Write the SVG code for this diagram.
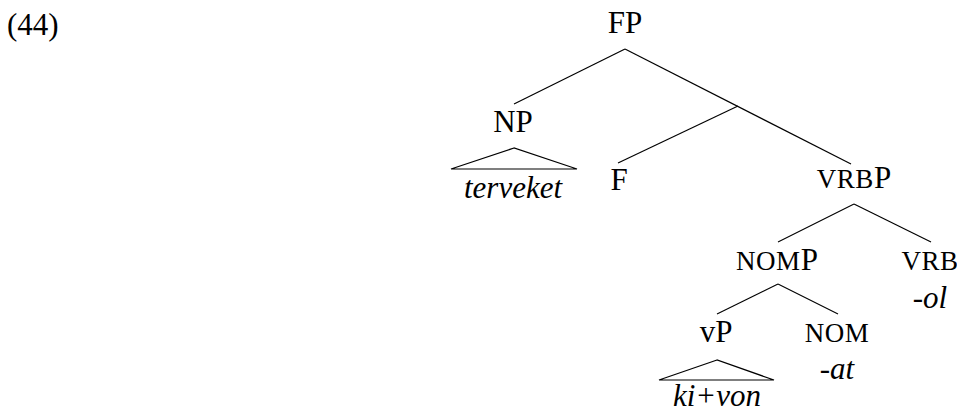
<svg xmlns="http://www.w3.org/2000/svg" width="957" height="412" viewBox="0 0 957 412">
<style>
.it{font-style:italic}
.sc{font-size:27px;letter-spacing:0.5px}
.edge{stroke:#000;stroke-width:1.2;fill:none}
</style>
<rect width="957" height="412" fill="#fff"/>
<g font-family="'Liberation Serif', 'Times New Roman', serif" font-size="31" fill="#000" text-anchor="middle">
<text x="7" y="35" text-anchor="start">(44)</text>
<g id="connectors">
<line class="edge" x1="625" y1="49" x2="514" y2="104"/>
<line class="edge" x1="625" y1="49" x2="851" y2="164"/>
<line class="edge" x1="738" y1="106" x2="618" y2="163"/>
<line class="edge" x1="854" y1="204" x2="778" y2="242"/>
<line class="edge" x1="854" y1="204" x2="931" y2="242"/>
<line class="edge" x1="778" y1="284" x2="717" y2="314"/>
<line class="edge" x1="778" y1="284" x2="838" y2="314"/>
</g>
<g id="FP"><text x="625" y="33">FP</text></g>
<g id="NP"><text x="513" y="132">NP</text>
<polygon class="edge" points="514,148 451,169 577,169"/>
<text class="it" x="513" y="198">terveket</text></g>
<g id="F"><text x="619" y="190">F</text></g>
<g id="VRBP"><text x="854" y="188"><tspan class="sc">VRB</tspan>P</text></g>
<g id="NOMP"><text x="777" y="270"><tspan class="sc">NOM</tspan>P</text></g>
<g id="VRB"><text class="sc" x="930" y="270">VRB</text>
<text class="it" x="930" y="308">-ol</text></g>
<g id="vP"><text x="716" y="342">vP</text>
<polygon class="edge" points="717,360 659,380 774,380"/>
<text class="it" x="717" y="406">ki+von</text></g>
<g id="NOM"><text class="sc" x="837" y="342">NOM</text>
<text class="it" x="837" y="379">-at</text></g>
</g>
</svg>
